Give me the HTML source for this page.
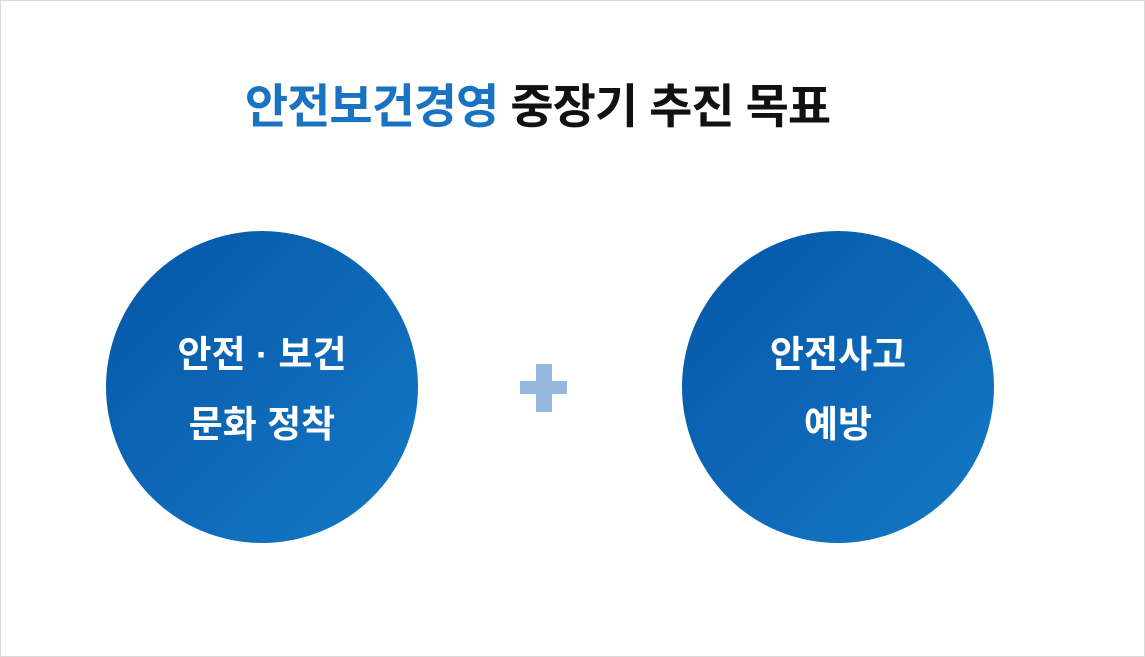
<!DOCTYPE html>
<html><head><meta charset="utf-8"><style>
html,body{margin:0;padding:0;}
body{width:1145px;height:657px;position:relative;background:#fff;overflow:hidden;font-family:"Liberation Sans","Noto Sans CJK KR",sans-serif;}
.frame{position:absolute;left:0;top:0;width:1143px;height:655px;border:1px solid #d9d9d9;}
.title{position:absolute;left:0;width:1075px;top:78px;text-align:center;font-size:47px;font-weight:bold;color:#111;letter-spacing:-1px;white-space:nowrap;line-height:58px;}
.title span{color:#1a72c2;}
.c{position:absolute;top:231px;width:312px;height:312px;border-radius:50%;background:linear-gradient(135deg,#0357a6 0%,#0d67b6 50%,#1579c6 100%);color:#fff;font-weight:bold;font-size:37px;text-align:center;}
.c div{position:absolute;left:0;width:100%;line-height:44px;}
.p{position:absolute;background:#95b6dd;}
</style></head><body>
<div class="frame"></div>
<div class="title"><span>안전보건경영</span> 중장기 추진 목표</div>
<div class="c" style="left:106px"><div style="top:102px">안전 · 보건</div><div style="top:172px">문화 정착</div></div>
<div class="p" style="left:520px;top:381px;width:47px;height:13px"></div>
<div class="p" style="left:536px;top:364px;width:16px;height:48px"></div>
<div class="c" style="left:682px"><div style="top:102px">안전사고</div><div style="top:172px">예방</div></div>
</body></html>
